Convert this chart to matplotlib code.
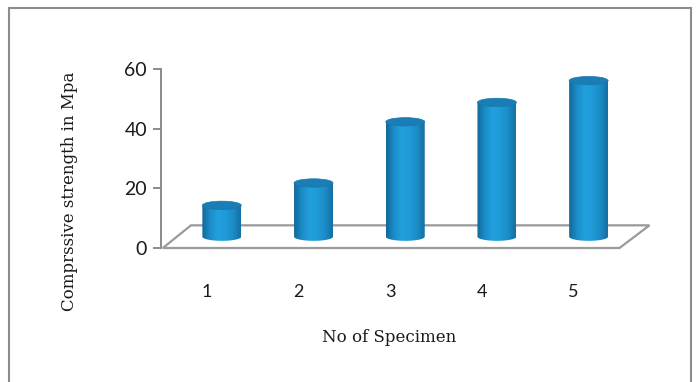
import numpy as np
import matplotlib
matplotlib.use("Agg")
import matplotlib.pyplot as plt
from matplotlib.patches import Polygon, Ellipse, PathPatch
from matplotlib.path import Path
from matplotlib.colors import LinearSegmentedColormap
from matplotlib.lines import Line2D

# data
specimens = [1, 2, 3, 4, 5]
strength = [10.5, 18, 38.5, 45, 52.3]
yticks = [0, 20, 40, 60]

# 3d look
depth_x = 0.327   # floor depth in category units
depth_y = 7.6     # floor depth in value units
bar_w = 0.425
ell_h = 2.8

fig = plt.figure(figsize=(6.97, 3.82), dpi=100)
ax = fig.add_axes([161/697, 134/382, 458.5/697, 179/382])
ax.set_xlim(0.5, 5.5)
ax.set_ylim(0, 60)

# floor
x0, x1 = 0.5, 5.5
floor = Polygon([[x0 + 0.02, 0], [x0 + depth_x, depth_y], [x1 + depth_x, depth_y], [x1, 0]],
                closed=True, facecolor='white', edgecolor='#9a9a9a', lw=1.6, clip_on=False, zorder=1)
ax.add_patch(floor)

cmap = LinearSegmentedColormap.from_list('cyl', ['#136898', '#1b8cc8', '#21a0dd', '#1f9bd7', '#1b8cc6', '#156fa3'])
grad = np.linspace(0, 1, 200).reshape(1, -1)

for sp, val in zip(specimens, strength):
    cx = sp + depth_x / 2
    yb = depth_y / 2
    yt = yb + val
    t = np.linspace(np.pi, 2 * np.pi, 60)
    bx = cx + bar_w / 2 * np.cos(t)
    by = yb + ell_h / 2 * np.sin(t)
    pts = list(zip(bx, by)) + [(cx + bar_w / 2, yt), (cx - bar_w / 2, yt), (bx[0], by[0])]
    patch = PathPatch(Path(pts), facecolor='none', edgecolor='none', clip_on=False)
    ax.add_patch(patch)
    im = ax.imshow(grad, cmap=cmap, aspect='auto', extent=[cx - bar_w / 2, cx + bar_w / 2, yb - ell_h, yt],
                   zorder=3, clip_on=True)
    im.set_clip_path(patch)
    top = Ellipse((cx, yt), bar_w, ell_h, facecolor='#1b7db6', edgecolor='#1a78ae', lw=0.5, zorder=4, clip_on=False)
    ax.add_patch(top)

ax.set_xlim(0.5, 5.5)
ax.set_ylim(0, 60)

for s in ['top', 'right', 'bottom']:
    ax.spines[s].set_visible(False)
ax.spines['left'].set_color('#8a8a8a')
ax.spines['left'].set_linewidth(1.4)
ax.set_yticks(yticks)
ax.tick_params(axis='y', length=6, width=1.4, color='#8a8a8a', pad=4, labelsize=14, labelcolor='#1a1a1a')
ax.set_xticks(specimens)
ax.tick_params(axis='x', length=0, pad=26, labelsize=13, labelcolor='#1a1a1a')
for lab in ax.get_xticklabels() + ax.get_yticklabels():
    lab.set_family('Lato')

fig.text(69/697, 1 - 191/382, 'Comprssive strength in Mpa', rotation=90, ha='center', va='center',
         family='DejaVu Serif', fontsize=12, color='#1a1a1a')
fig.text(389/697, 1 - 338/382, 'No of Specimen', ha='center', va='center',
         family='DejaVu Serif', fontsize=12, color='#1a1a1a')

# outer frame
for xs, ys in [([9/697, 9/697], [0, 1 - 8/382]), ([9/697, 691/697], [1 - 8/382, 1 - 8/382]),
               ([691/697, 691/697], [1 - 8/382, 0])]:
    fig.add_artist(Line2D(xs, ys, color='#8c8c8c', lw=1.5))

fig.savefig('out.png', dpi=100)
